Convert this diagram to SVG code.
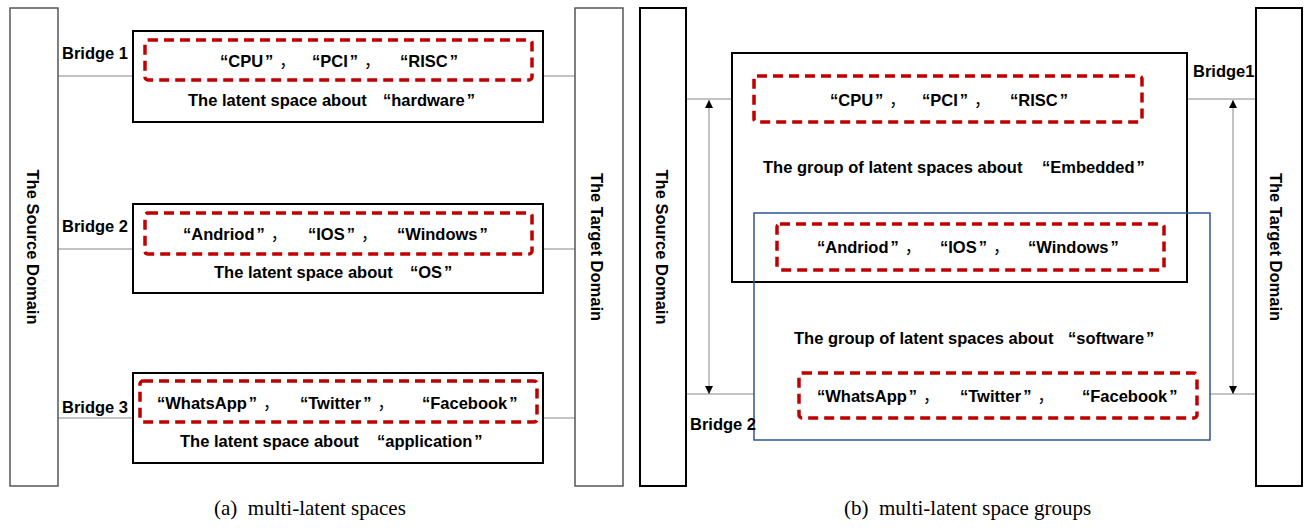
<svg xmlns="http://www.w3.org/2000/svg" width="1304" height="528" viewBox="0 0 1304 528">
<style>
.dom1{fill:#fff;stroke:#555;stroke-width:1.5}
.dom2{fill:#fff;stroke:#000;stroke-width:2}
.box{fill:none;stroke:#000;stroke-width:2}
.blue{fill:none;stroke:#2f5597;stroke-width:1.5}
.dash{fill:none;stroke:#c00000;stroke-width:3.5;stroke-dasharray:10 6}
.conn{fill:none;stroke:#888;stroke-width:1}
.t{font-family:"Liberation Sans","Noto Sans CJK SC",sans-serif;font-weight:bold;font-size:16.5px;fill:#000}
.q{font-family:"Noto Sans CJK SC",sans-serif;font-weight:normal}
.c{text-anchor:middle}
.cap{font-family:"Liberation Serif",serif;font-size:21px;fill:#000}
</style>
<defs>
<marker id="ah" viewBox="0 0 10 10" refX="10" refY="5" markerWidth="8" markerHeight="8" orient="auto-start-reverse" markerUnits="userSpaceOnUse">
<path d="M0,0 L10,5 L0,10 z" fill="#000"/>
</marker>
</defs>

<g id="connectors">
<line class="conn" x1="58" y1="76" x2="133" y2="76"/>
<line class="conn" x1="543" y1="76" x2="575" y2="76"/>
<line class="conn" x1="58" y1="249" x2="133" y2="249"/>
<line class="conn" x1="543" y1="249" x2="575" y2="249"/>
<line class="conn" x1="58" y1="418" x2="133" y2="418"/>
<line class="conn" x1="543" y1="418" x2="575" y2="418"/>
<line class="conn" x1="686" y1="99" x2="732" y2="99"/>
<line class="conn" x1="1187" y1="99" x2="1256" y2="99"/>
<line class="conn" x1="686" y1="394" x2="754" y2="394"/>
<line class="conn" x1="1210" y1="394" x2="1256" y2="394"/>
<line class="conn" x1="709" y1="100" x2="709" y2="394" marker-start="url(#ah)" marker-end="url(#ah)"/>
<line class="conn" x1="1233" y1="100" x2="1233" y2="394" marker-start="url(#ah)" marker-end="url(#ah)"/>
</g>

<g id="source-a">
<rect class="dom1" x="10" y="8" width="48" height="478"/>
<text class="t c" transform="translate(33,247) rotate(90)" dominant-baseline="central">The Source Domain</text>
</g>
<g id="target-a">
<rect class="dom1" x="575" y="8" width="48" height="478"/>
<text class="t c" transform="translate(597,247) rotate(90)" dominant-baseline="central">The Target Domain</text>
</g>

<g id="hardware">
<rect class="box" x="133" y="31" width="410" height="91"/>
<rect class="dash" x="145" y="40" width="387" height="40" rx="3"/>
<text class="t" y="67"><tspan x="220">“CPU</tspan><tspan dx="2">”</tspan><tspan class="q" dx="6">，</tspan><tspan x="312">“PCI</tspan><tspan dx="2">”</tspan><tspan class="q" dx="6">，</tspan><tspan x="400">“RISC</tspan><tspan dx="2">”</tspan></text>
<text class="t" x="188" y="106">The latent space about <tspan x="383">“hardware</tspan><tspan dx="2">”</tspan></text>
</g>
<g id="os">
<rect class="box" x="133" y="204" width="410" height="89"/>
<rect class="dash" x="145" y="213" width="387" height="41" rx="3"/>
<text class="t" y="240"><tspan x="183">“Andriod</tspan><tspan dx="2">”</tspan><tspan class="q" dx="6">，</tspan><tspan x="308">“IOS</tspan><tspan dx="2">”</tspan><tspan class="q" dx="6">，</tspan><tspan x="397">“Windows</tspan><tspan dx="2">”</tspan></text>
<text class="t" x="214" y="278">The latent space about <tspan x="410">“OS</tspan><tspan dx="2">”</tspan></text>
</g>
<g id="application">
<rect class="box" x="133" y="373" width="410" height="90"/>
<rect class="dash" x="140" y="381" width="397" height="41" rx="3"/>
<text class="t" y="409"><tspan x="157">“WhatsApp</tspan><tspan dx="2">”</tspan><tspan class="q" dx="6">，</tspan><tspan x="300">“Twitter</tspan><tspan dx="2">”</tspan><tspan class="q" dx="6">，</tspan><tspan x="422">“Facebook</tspan><tspan dx="2">”</tspan></text>
<text class="t" x="180" y="447">The latent space about <tspan x="377">“application</tspan><tspan dx="2">”</tspan></text>
</g>
<g id="bridge-labels-a">
<text class="t" x="62" y="59">Bridge 1</text>
<text class="t" x="62" y="232">Bridge 2</text>
<text class="t" x="62" y="413">Bridge 3</text>
</g>

<g id="source-b">
<rect class="dom2" x="640" y="8" width="46" height="478"/>
<text class="t c" transform="translate(662,247) rotate(90)" dominant-baseline="central">The Source Domain</text>
</g>
<g id="target-b">
<rect class="dom2" x="1256" y="8" width="46" height="478"/>
<text class="t c" transform="translate(1276,247) rotate(90)" dominant-baseline="central">The Target Domain</text>
</g>

<g id="embedded">
<rect class="box" x="732" y="53" width="455" height="229"/>
<rect class="dash" x="754" y="76" width="388" height="46" rx="3"/>
<text class="t" y="106"><tspan x="830">“CPU</tspan><tspan dx="2">”</tspan><tspan class="q" dx="6">，</tspan><tspan x="922">“PCI</tspan><tspan dx="2">”</tspan><tspan class="q" dx="6">，</tspan><tspan x="1010">“RISC</tspan><tspan dx="2">”</tspan></text>
<text class="t" x="763" y="173">The group of latent spaces about <tspan x="1042">“Embedded</tspan><tspan dx="2">”</tspan></text>
</g>
<g id="software">
<rect class="blue" x="754" y="213" width="456" height="227"/>
<rect class="dash" x="777" y="224" width="387" height="46" rx="3"/>
<text class="t" y="253"><tspan x="817">“Andriod</tspan><tspan dx="2">”</tspan><tspan class="q" dx="6">，</tspan><tspan x="940">“IOS</tspan><tspan dx="2">”</tspan><tspan class="q" dx="6">，</tspan><tspan x="1028">“Windows</tspan><tspan dx="2">”</tspan></text>
<text class="t" x="794" y="344">The group of latent spaces about <tspan x="1068">“software</tspan><tspan dx="2">”</tspan></text>
<rect class="dash" x="799" y="373" width="398" height="45" rx="3"/>
<text class="t" y="402"><tspan x="817">“WhatsApp</tspan><tspan dx="2">”</tspan><tspan class="q" dx="6">，</tspan><tspan x="960">“Twitter</tspan><tspan dx="2">”</tspan><tspan class="q" dx="6">，</tspan><tspan x="1082">“Facebook</tspan><tspan dx="2">”</tspan></text>
</g>
<g id="bridge-labels-b">
<text class="t" x="1193" y="77">Bridge1</text>
<text class="t" x="690" y="430">Bridge 2</text>
</g>

<g id="captions">
<text class="cap" x="214" y="515" xml:space="preserve">(a)  multi-latent spaces</text>
<text class="cap" x="844" y="515" xml:space="preserve">(b)  multi-latent space groups</text>
</g>
</svg>
